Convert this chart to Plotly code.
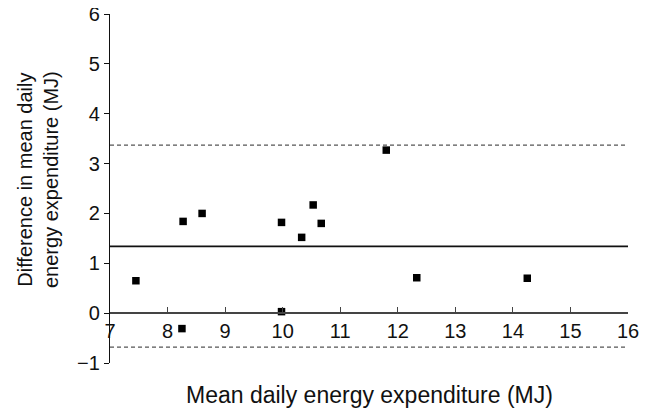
import plotly.graph_objects as go

# Data (Bland-Altman style plot)
mean_expenditure = [7.45, 8.27, 8.60, 8.25, 9.98, 9.98, 10.33, 10.53, 10.67, 11.80, 12.33, 14.25]
diff_expenditure = [0.65, 1.84, 2.00, -0.31, 1.82, 0.03, 1.52, 2.17, 1.80, 3.27, 0.71, 0.70]
mean_diff = 1.34
upper_limit = 3.37
lower_limit = -0.68
x_ticks = [7, 8, 9, 10, 11, 12, 13, 14, 15, 16]
y_ticks = [-1, 0, 1, 2, 3, 4, 5, 6]
x_range = [7, 16]
y_range = [-1, 6]

FONT = "Liberation Sans, Arial, sans-serif"
FS_TICK = 20
FS_XT = 23
FS_YT = 20

fig = go.Figure()

fig.add_trace(go.Scatter(
    x=x_range, y=[upper_limit, upper_limit], mode="lines",
    line=dict(color="#555555", width=1.3, dash="4px,3px"), showlegend=False, hoverinfo="skip"))
fig.add_trace(go.Scatter(
    x=x_range, y=[lower_limit, lower_limit], mode="lines",
    line=dict(color="#555555", width=1.3, dash="4px,3px"), showlegend=False, hoverinfo="skip"))
fig.add_trace(go.Scatter(
    x=x_range, y=[mean_diff, mean_diff], mode="lines",
    line=dict(color="#111111", width=1.7), showlegend=False, hoverinfo="skip"))
fig.add_trace(go.Scatter(
    x=mean_expenditure, y=diff_expenditure, mode="markers",
    marker=dict(symbol="square", size=7.5, color="black"), showlegend=False))

# page body has an 8px margin, so figure coordinates are offset by 8px
L, R, T, B = 102, 28, 6, 54
W, H = 648, 409
PW, PH = W - L - R, H - T - B
fig.update_layout(
    width=W, height=H,
    margin=dict(l=L, r=R, t=T, b=B, pad=0, autoexpand=False),
    paper_bgcolor="white", plot_bgcolor="white",
    font=dict(family=FONT, size=FS_TICK, color="#111111"),
    xaxis=dict(
        range=x_range, tickvals=x_ticks, showgrid=False, zeroline=False,
        showline=True, linecolor="#444444", linewidth=1.5,
        ticks="inside", ticklen=5, tickwidth=1, tickcolor="#444444",
        anchor="free", position=(0 - y_range[0]) / (y_range[1] - y_range[0]),
        tickfont=dict(family=FONT, size=FS_TICK, color="#111111"), automargin=False,
        ticklabeloverflow="allow",
    ),
    yaxis=dict(
        range=y_range, tickvals=y_ticks, showgrid=False, zeroline=False,
        showline=True, linecolor="#111111", linewidth=1.2,
        ticks="outside", ticklen=5, tickwidth=1, tickcolor="#111111",
        tickfont=dict(family=FONT, size=FS_TICK, color="#111111"), automargin=False,
        ticklabeloverflow="allow",
    ),
)

fig.add_annotation(
    text="Difference in mean daily<br>energy expenditure (MJ)",
    textangle=-90, xref="paper", yref="paper",
    x=(30 - L) / PW, y=(H - B - 172) / PH,
    xanchor="center", yanchor="middle", showarrow=False,
    font=dict(family=FONT, size=FS_YT, color="#111111"),
)
fig.add_annotation(
    text="Mean daily energy expenditure (MJ)",
    xref="paper", yref="paper",
    x=0.5, y=(H - B - 387) / PH,
    xanchor="center", yanchor="middle", showarrow=False,
    font=dict(family=FONT, size=FS_XT, color="#111111"),
)

fig.write_html("out.html")
